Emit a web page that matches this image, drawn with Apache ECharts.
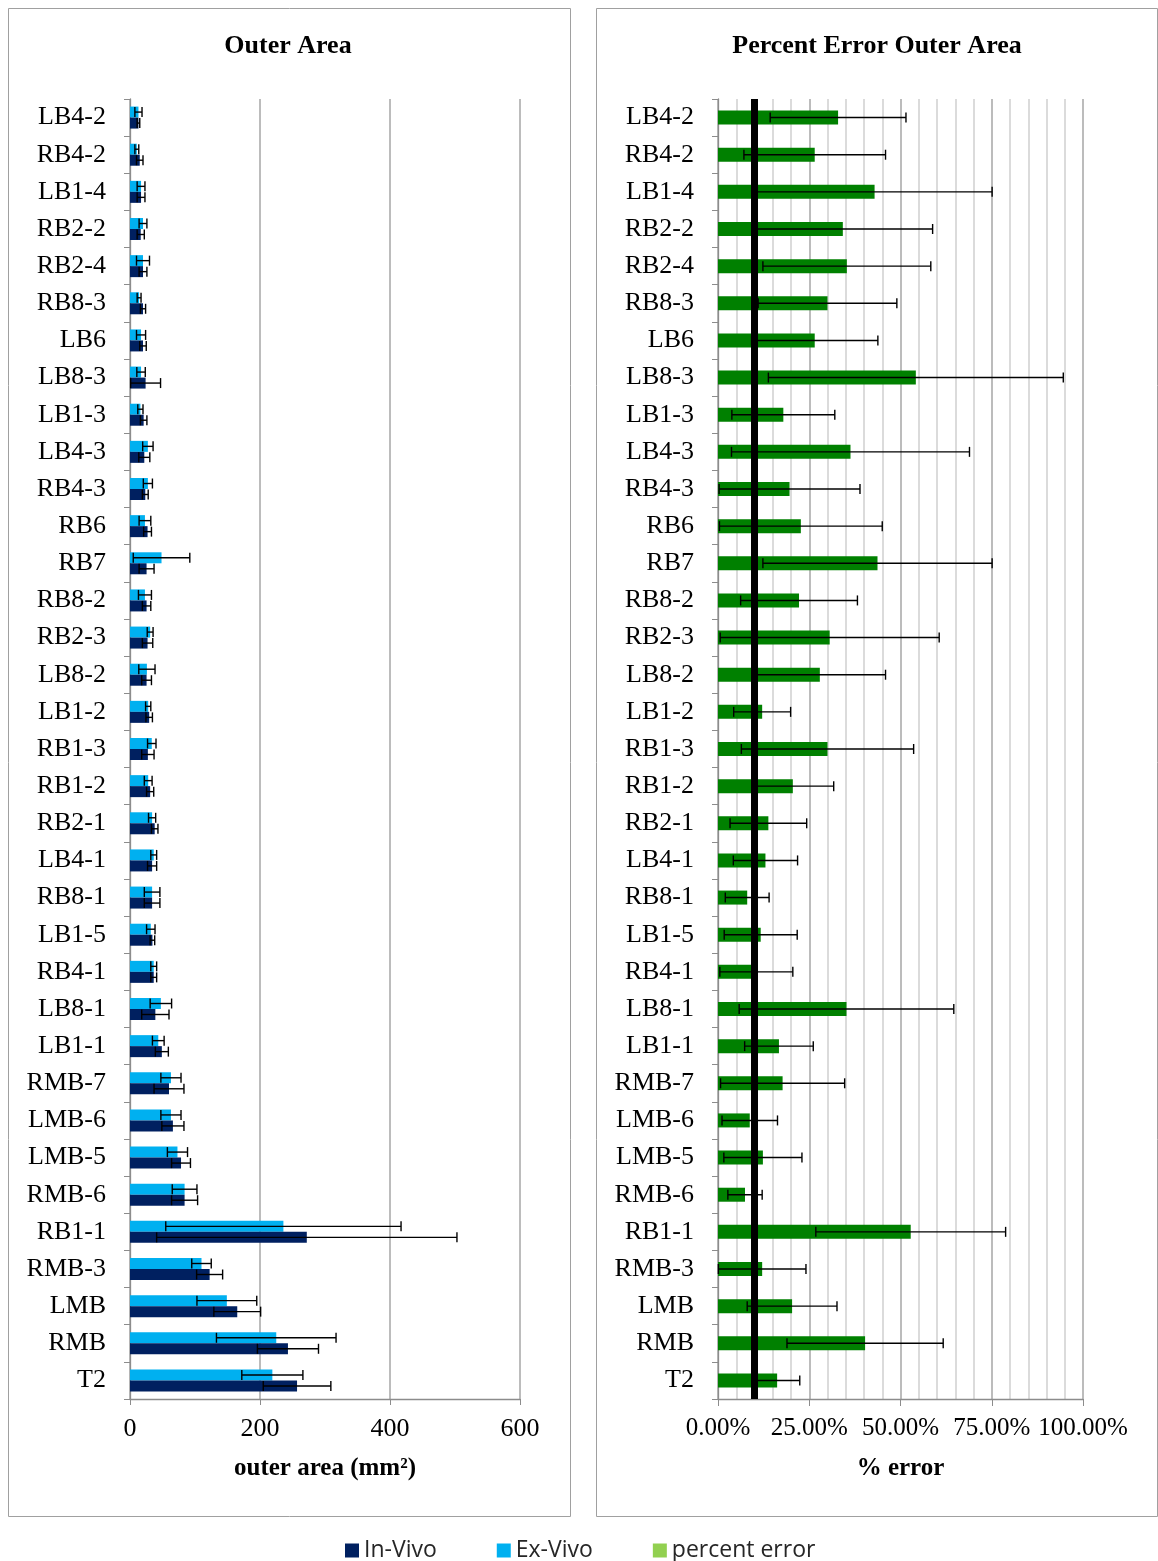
<!DOCTYPE html>
<html><head><meta charset="utf-8">
<script src="https://cdn.jsdelivr.net/npm/echarts@6/dist/echarts.min.js"></script>
<style>html,body{margin:0;padding:0;background:#fff}#c{width:1158px;height:1561px}</style>
</head><body><div id="c"></div>
<script>
const categories = ['LB4-2','RB4-2','LB1-4','RB2-2','RB2-4','RB8-3','LB6','LB8-3','LB1-3','LB4-3',
  'RB4-3','RB6','RB7','RB8-2','RB2-3','LB8-2','LB1-2','RB1-3','RB1-2','RB2-1',
  'LB4-1','RB8-1','LB1-5','RB4-1','LB8-1','LB1-1','RMB-7','LMB-6','LMB-5','RMB-6',
  'RB1-1','RMB-3','LMB','RMB','T2'];
const exVivo    = [13,10.5,17,20,20,14,17,17,16,27.5, 27.5,23,48.5,23,31,26,28,33.5,28,34, 36.5,34,32,36.5,47.5,43.5,63,63,73,84, 236,110,149,225,219];
const exVivoErr = [5.5,3,6,6,10,3,7,6.5,4,8, 7,9,43.5,10,4.5,12.5,4,6.5,6,5.5, 4.5,12,6.5,4.5,16.5,9,15.5,15.5,15.5,19, 181,15,46,92,47];
const inVivo    = [13,15,17,16.5,20,20,20,24,21,22, 23.5,27,25.5,25.5,27,25.5,29.5,27.5,31,38, 34,34,34.5,36.5,39,49,60,66,78.5,84, 272,122.5,165,243,257];
const inVivoErr = [2,5,6,5.5,6,4,5,23,5,8.5, 4.5,6,11.5,6.5,8,7.5,5,9.5,5.5,5, 7,12,3.5,4.5,21,10,23,17,14.5,20, 231,20,36,47,52];
const pctError    = [32.9,26.5,42.9,34.2,35.3,30,26.5,54.2,17.9,36.3, 19.6,22.7,43.7,22.2,30.6,27.9,12.1,30,20.5,13.8, 13,8,11.7,10.5,35.2,16.7,17.7,8.7,12.3,7.4, 52.8,12.1,20.3,40.3,16.2];
const pctErrorErr = [18.6,19.4,32.2,24.6,23,19,17.3,40.4,14.1,32.6, 19.3,22.3,31.4,16,30,18,7.8,23.6,11.2,10.5, 8.8,6,10,10,29.4,9.4,17,7.6,10.7,4.7, 26,12,12.3,21.4,6.2];
const targetError = 10;
const areaTicks = [0, 200, 400, 600];
const pctTicks = [0, 25, 50, 75, 100];

const SERIF = '"Liberation Serif", "Times New Roman", serif';
const BAR_W = 11;
const chart = echarts.init(document.getElementById('c'), null, {renderer:'canvas'});

function errSeries(name, vals, errs, xi, yi, offset) {
  return {
    name: name, type: 'custom', xAxisIndex: xi, yAxisIndex: yi, z: 5, silent: true,
    data: vals.map((v, i) => [v, i, errs[i]]),
    encode: {x: 0, y: 1},
    renderItem: function (params, api) {
      const v = api.value(0), i = api.value(1), e = api.value(2);
      const a = api.coord([v - e, i]), b = api.coord([v + e, i]);
      const y = a[1] + offset;
      const st = {stroke: '#000', lineWidth: 1.4};
      return {type: 'group', children: [
        {type: 'line', shape: {x1: a[0], y1: y, x2: b[0], y2: y}, style: st},
        {type: 'line', shape: {x1: a[0], y1: y - 5, x2: a[0], y2: y + 5}, style: st},
        {type: 'line', shape: {x1: b[0], y1: y - 5, x2: b[0], y2: y + 5}, style: st}
      ]};
    }
  };
}

const catAxis = (gi) => ({
  type: 'category', gridIndex: gi, data: categories, inverse: true,
  axisLine: {show: true, lineStyle: {color: '#8c8c8c', width: 1.3}},
  axisTick: {show: true, length: 6, lineStyle: {color: '#8c8c8c'}},
  axisLabel: {fontFamily: SERIF, fontSize: 26, color: '#000', margin: 24},
  splitLine: {show: false}
});

chart.setOption({
  animation: false,
  backgroundColor: '#fff',
  graphic: [
    {type: 'rect', shape: {x: 8.5, y: 8.5, width: 562, height: 1508}, style: {fill: 'none', stroke: '#a0a0a0', lineWidth: 1}},
    {type: 'rect', shape: {x: 596.5, y: 8.5, width: 561, height: 1508}, style: {fill: 'none', stroke: '#a0a0a0', lineWidth: 1}}
  ],
  title: [
    {text: 'Outer Area', left: 283, top: 28, textAlign: 'center',
     textStyle: {fontFamily: SERIF, fontSize: 26, fontWeight: 'bold', color: '#000'}},
    {text: 'Percent Error Outer Area', left: 872, top: 28, textAlign: 'center',
     textStyle: {fontFamily: SERIF, fontSize: 26, fontWeight: 'bold', color: '#000'}}
  ],
  legend: {
    top: 1534, left: 340, itemGap: 60, itemWidth: 14, itemHeight: 14, icon: 'rect',
    textStyle: {fontFamily: '"Open Sans", "Liberation Sans", sans-serif', fontSize: 23, color: '#262626'},
    data: ['In-Vivo', 'Ex-Vivo', {name: 'percent error', itemStyle: {color: '#92D050'}}]
  },
  grid: [
    {left: 130, top: 99, width: 390, height: 1300},
    {left: 718, top: 99, width: 365, height: 1300}
  ],
  xAxis: [
    {type: 'value', gridIndex: 0, min: areaTicks[0], max: areaTicks[areaTicks.length - 1], interval: areaTicks[1] - areaTicks[0],
     name: 'outer area (mm²)', nameLocation: 'middle', nameGap: 57,
     nameTextStyle: {fontFamily: SERIF, fontSize: 25, fontWeight: 'bold', color: '#000'},
     axisLine: {show: true, lineStyle: {color: '#8c8c8c', width: 1.3}},
     axisTick: {show: true, length: 6, lineStyle: {color: '#8c8c8c'}},
     axisLabel: {fontFamily: SERIF, fontSize: 26, color: '#000', margin: 17},
     splitLine: {show: true, lineStyle: {color: '#a6a6a6', width: 1.5}}},
    {type: 'value', gridIndex: 1, min: pctTicks[0], max: pctTicks[pctTicks.length - 1], interval: pctTicks[1] - pctTicks[0],
     name: '% error', nameLocation: 'middle', nameGap: 57,
     nameTextStyle: {fontFamily: SERIF, fontSize: 25, fontWeight: 'bold', color: '#000'},
     axisLine: {show: true, lineStyle: {color: '#8c8c8c', width: 1.3}},
     axisTick: {show: true, length: 7, lineStyle: {color: '#8c8c8c'}},
     axisLabel: {fontFamily: SERIF, fontSize: 25, color: '#000', margin: 17, formatter: v => v.toFixed(2) + '%'},
     splitLine: {show: true, lineStyle: {color: '#a6a6a6', width: 1.5}},
     minorTick: {show: false, splitNumber: 5},
     minorSplitLine: {show: true, lineStyle: {color: '#d0d0d0', width: 1.5}}}
  ],
  yAxis: [catAxis(0), catAxis(1)],
  series: [
    {name: 'Ex-Vivo', type: 'bar', xAxisIndex: 0, yAxisIndex: 0, data: exVivo, barWidth: BAR_W, barGap: '0%',
     itemStyle: {color: '#00B0F0'}},
    {name: 'In-Vivo', type: 'bar', xAxisIndex: 0, yAxisIndex: 0, data: inVivo, barWidth: BAR_W, barGap: '0%',
     itemStyle: {color: '#002060'}},
    errSeries('Ex-Vivo err', exVivo, exVivoErr, 0, 0, -BAR_W / 2),
    errSeries('In-Vivo err', inVivo, inVivoErr, 0, 0, BAR_W / 2),
    {name: 'percent error', type: 'bar', xAxisIndex: 1, yAxisIndex: 1, data: pctError, barWidth: 14,
     itemStyle: {color: '#008000'},
     markLine: {silent: true, symbol: 'none', label: {show: false}, z: 10,
       lineStyle: {color: '#000', width: 7, type: 'solid'}, data: [{xAxis: targetError}]}},
    errSeries('percent error err', pctError, pctErrorErr, 1, 1, 0)
  ]
});
</script>
</body></html>
